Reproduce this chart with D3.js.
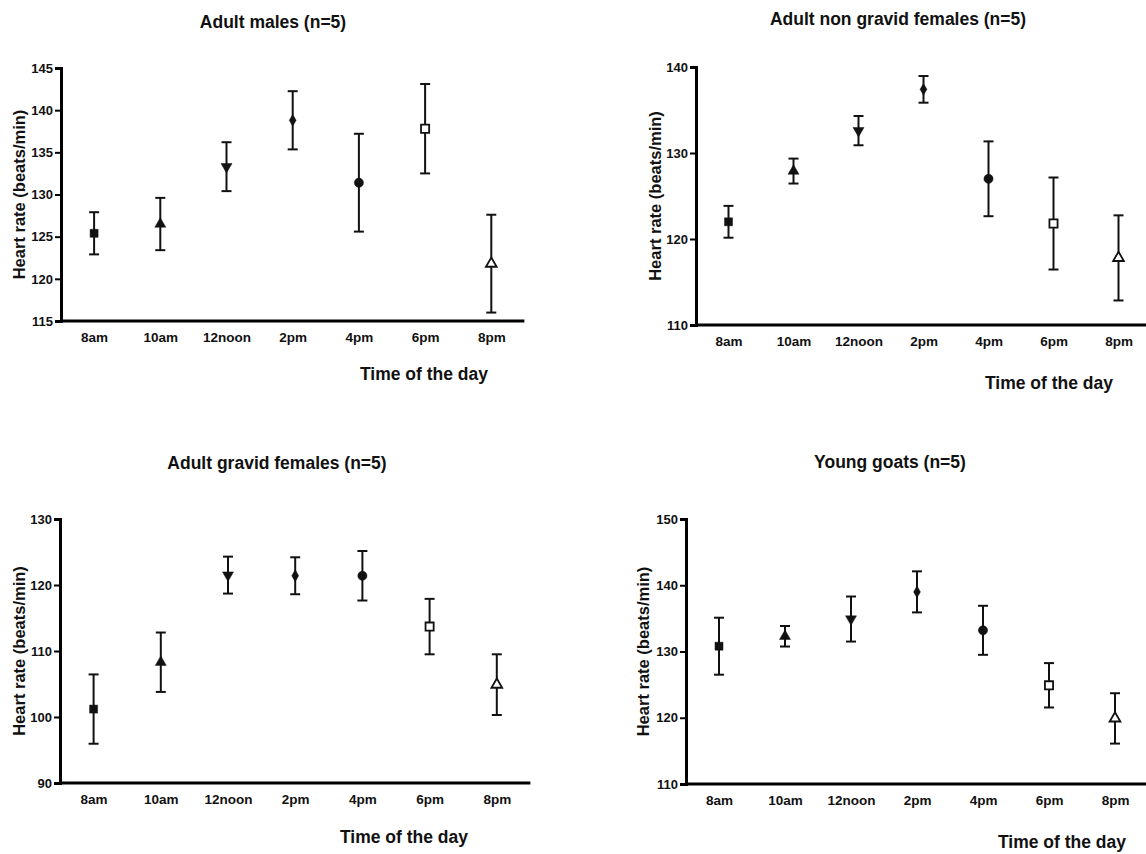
<!DOCTYPE html>
<html>
<head>
<meta charset="utf-8">
<script src="https://cdn.jsdelivr.net/npm/d3@7"></script>
<style>
    body { margin: 0; background: #fff; }
    text { font-family: "Liberation Sans", Arial, sans-serif; font-weight: bold; fill: #111; }
</style>
</head>
<body>
<svg id="chart" width="1146" height="854"></svg>
<script>
// time points shared by all four panels
const times = ["8am", "10am", "12noon", "2pm", "4pm", "6pm", "8pm"];

// mean heart rate and SEM (beats/min)
const malesMean = [125.4, 126.5, 133.3, 138.8, 131.4, 137.8, 121.8];
const malesSem = [2.5, 3.1, 2.9, 3.45, 5.8, 5.3, 5.8];

const nonGravidMean = [122.0, 127.9, 132.6, 137.4, 127.0, 121.8, 117.8];
const nonGravidSem = [1.85, 1.45, 1.7, 1.55, 4.35, 5.35, 4.95];

const gravidMean = [101.2, 108.3, 121.5, 121.4, 121.4, 113.7, 104.9];
const gravidSem = [5.25, 4.5, 2.8, 2.8, 3.75, 4.2, 4.6];

const youngMean = [130.8, 132.3, 134.9, 139.0, 133.2, 124.9, 119.9];
const youngSem = [4.3, 1.55, 3.4, 3.1, 3.7, 3.35, 3.8];

// y axis tick values
const malesTicks = [115, 120, 125, 130, 135, 140, 145];
const nonGravidTicks = [110, 120, 130, 140];
const gravidTicks = [90, 100, 110, 120, 130];
const youngTicks = [110, 120, 130, 140, 150];

// one marker per time point, same order in every panel
const markers = [
    {type: d3.symbolSquare, size: 64, fill: true, rot: 0},
    {type: d3.symbolTriangle, size: 52, fill: true, rot: 0},
    {type: d3.symbolTriangle, size: 52, fill: true, rot: 180},
    {type: d3.symbolDiamond, size: 40, fill: true, rot: 0},
    {type: d3.symbolCircle, size: 66, fill: true, rot: 0},
    {type: d3.symbolSquare, size: 66, fill: false, rot: 0},
    {type: d3.symbolTriangle, size: 50, fill: false, rot: 0}
];

const panels = [
    {title: "Adult males (n=5)", mean: malesMean, sem: malesSem, ticks: malesTicks,
     left: 61, top: 68, bottom: 321, step: 66.2, titleX: 273, titleY: 28, xlabX: 424, xlabY: 380, ylabX: 19},
    {title: "Adult non gravid females (n=5)", mean: nonGravidMean, sem: nonGravidSem, ticks: nonGravidTicks,
     left: 696, top: 67, bottom: 325, step: 65, titleX: 898, titleY: 25, xlabX: 1049, xlabY: 389, ylabX: 655},
    {title: "Adult gravid females (n=5)", mean: gravidMean, sem: gravidSem, ticks: gravidTicks,
     left: 60, top: 519, bottom: 783, step: 67.2, titleX: 277, titleY: 469, xlabX: 404, xlabY: 843, ylabX: 19},
    {title: "Young goats (n=5)", mean: youngMean, sem: youngSem, ticks: youngTicks,
     left: 686, top: 519, bottom: 784, step: 66, titleX: 890, titleY: 468, xlabX: 1062, xlabY: 848, ylabX: 643}
];

const svg = d3.select("#chart");

panels.forEach(p => {
    let g = svg.append("g");

    let x = d3.scalePoint()
        .domain(times)
        .range([p.left, p.left + p.step * times.length])
        .padding(0.5);

    let y = d3.scaleLinear()
        .domain([p.ticks[0], p.ticks[p.ticks.length - 1]])
        .range([p.bottom, p.top]);

    // y axis
    let yAxis = g.append("g")
        .attr("transform", `translate(${p.left},0)`)
        .call(d3.axisLeft(y).tickValues(p.ticks).tickSize(6).tickPadding(2).tickFormat(d3.format("d")));
    yAxis.select(".domain").attr("stroke", "#000").attr("stroke-width", 3);
    yAxis.selectAll(".tick line").attr("stroke", "#000").attr("stroke-width", 2);
    yAxis.selectAll(".tick text")
        .attr("font-size", 13)
        .attr("font-family", null)
        .attr("fill", null);

    // x axis, labels only
    let xAxis = g.append("g")
        .attr("transform", `translate(0,${p.bottom})`)
        .call(d3.axisBottom(x).tickSize(0).tickPadding(11));
    xAxis.select(".domain").attr("stroke", "#000").attr("stroke-width", 3)
        .attr("d", `M${p.left - 1},0H${p.left + p.step * times.length}`);
    xAxis.selectAll(".tick text")
        .attr("font-size", 13.5)
        .attr("font-family", null)
        .attr("fill", null);

    let rows = times.map((t, i) => ({time: t, mean: p.mean[i], sem: p.sem[i], m: markers[i]}));

    // error bars
    let bars = g.selectAll(".err")
        .data(rows)
        .join("g")
        .attr("class", "err")
        .attr("stroke", "#111")
        .attr("stroke-width", 2);

    bars.append("line")
        .attr("x1", d => x(d.time)).attr("x2", d => x(d.time))
        .attr("y1", d => y(d.mean + d.sem)).attr("y2", d => y(d.mean - d.sem));
    bars.append("line")
        .attr("x1", d => x(d.time) - 5).attr("x2", d => x(d.time) + 5)
        .attr("y1", d => y(d.mean + d.sem)).attr("y2", d => y(d.mean + d.sem));
    bars.append("line")
        .attr("x1", d => x(d.time) - 5).attr("x2", d => x(d.time) + 5)
        .attr("y1", d => y(d.mean - d.sem)).attr("y2", d => y(d.mean - d.sem));

    // markers
    g.selectAll(".pt")
        .data(rows)
        .join("path")
        .attr("class", "pt")
        .attr("d", d => d3.symbol().type(d.m.type).size(d.m.size)())
        .attr("transform", d => `translate(${x(d.time)},${y(d.mean)}) rotate(${d.m.rot})`)
        .attr("fill", d => d.m.fill ? "#111" : "#fff")
        .attr("stroke", "#111")
        .attr("stroke-width", d => d.m.fill ? 0.5 : 1.8);

    // titles and axis labels
    g.append("text")
        .attr("x", p.titleX).attr("y", p.titleY)
        .attr("text-anchor", "middle")
        .attr("font-size", 17.5)
        .text(p.title);

    g.append("text")
        .attr("x", p.xlabX).attr("y", p.xlabY)
        .attr("text-anchor", "middle")
        .attr("font-size", 17.5)
        .text("Time of the day");

    g.append("text")
        .attr("transform", `translate(${p.ylabX},${(p.top + p.bottom) / 2}) rotate(-90)`)
        .attr("text-anchor", "middle")
        .attr("dy", "0.35em")
        .attr("font-size", 16.5)
        .text("Heart rate (beats/min)");
});
</script>
</body>
</html>
